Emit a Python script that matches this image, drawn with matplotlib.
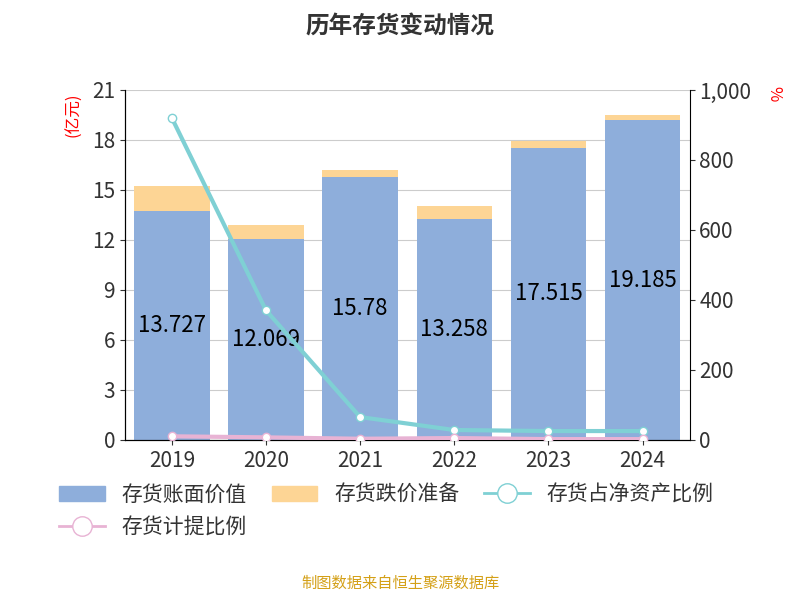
import matplotlib
matplotlib.use("Agg")
import matplotlib.pyplot as plt
from matplotlib.lines import Line2D
from matplotlib.patches import Patch

plt.rcParams['font.family'] = ['Noto Sans CJK SC', 'DejaVu Sans']

years = ["2019", "2020", "2021", "2022", "2023", "2024"]
book = [13.727, 12.069, 15.78, 13.258, 17.515, 19.185]
reserve = [1.5, 0.85, 0.4, 0.75, 0.4, 0.3]
net_ratio = [920, 370, 65, 28, 25, 25]
prov_ratio = [10, 7, 3, 5, 2, 2]

fig = plt.figure(figsize=(8, 6), dpi=100)
ax = fig.add_axes([0.156, 0.267, 0.706, 0.583])
x = range(len(years))
ax.bar(x, book, width=0.8, color='#8eaedb', zorder=2)
ax.bar(x, reserve, bottom=book, width=0.8, color='#fdd595', zorder=2)
for i, v in enumerate(book):
    ax.text(i, v / 2, f"{v:g}", ha='center', va='center', fontsize=16, zorder=5)
ax.set_ylim(0, 21)
ax.set_yticks(range(0, 22, 3))
ax.set_xlim(-0.5, 5.5)
ax.set_xticks(list(x))
ax.set_xticklabels(years)
ax.grid(axis='y', color='#cccccc', zorder=0)
ax.tick_params(labelsize=15, colors='#333333')
for s in ['top', 'right']:
    ax.spines[s].set_visible(False)
ax.text(-0.09, 0.93, "(亿元)", transform=ax.transAxes, rotation=90, color='red', fontsize=12, ha='center', va='center')

ax2 = ax.twinx()
ax2.plot(x, net_ratio, color='#7fd0d4', lw=3, marker='o', ms=6, mfc='white', mec='#7fd0d4', zorder=4)
ax2.plot(x, prov_ratio, color='#e8b3d4', lw=3, marker='o', ms=6, mfc='white', mec='#e8b3d4', zorder=4)
ax2.set_ylim(0, 1000)
ax2.set_yticks(range(0, 1001, 200))
ax2.set_yticklabels([f"{v:,}" for v in range(0, 1001, 200)])
ax2.tick_params(labelsize=15, colors='#333333')
ax2.spines['top'].set_visible(False)
ax2.text(1.15, 0.99, "%", transform=ax2.transAxes, rotation=-90, color='red', fontsize=12, ha='center', va='center')

fig.suptitle("历年存货变动情况", fontsize=17, fontweight='bold', y=0.975, color='#333333')
h_book = Patch(color='#8eaedb')
h_res = Patch(color='#fdd595')
h_net = Line2D([], [], color='#7fd0d4', lw=2, marker='o', ms=14, mfc='white')
h_prov = Line2D([], [], color='#e8b3d4', lw=2, marker='o', ms=14, mfc='white')
handles = [h_book, h_prov, h_res, h_net]
labels = ["存货账面价值", "存货计提比例", "存货跌价准备", "存货占净资产比例"]
fig.legend(handles, labels, loc='upper left', bbox_to_anchor=(0.05, 0.225), ncol=3,
           frameon=False, fontsize=15, handlelength=2.2, columnspacing=1.2, labelcolor='#333333')
fig.text(0.5, 0.02, "制图数据来自恒生聚源数据库", ha='center', color='#d4a017', fontsize=11)
fig.savefig("out.png")
